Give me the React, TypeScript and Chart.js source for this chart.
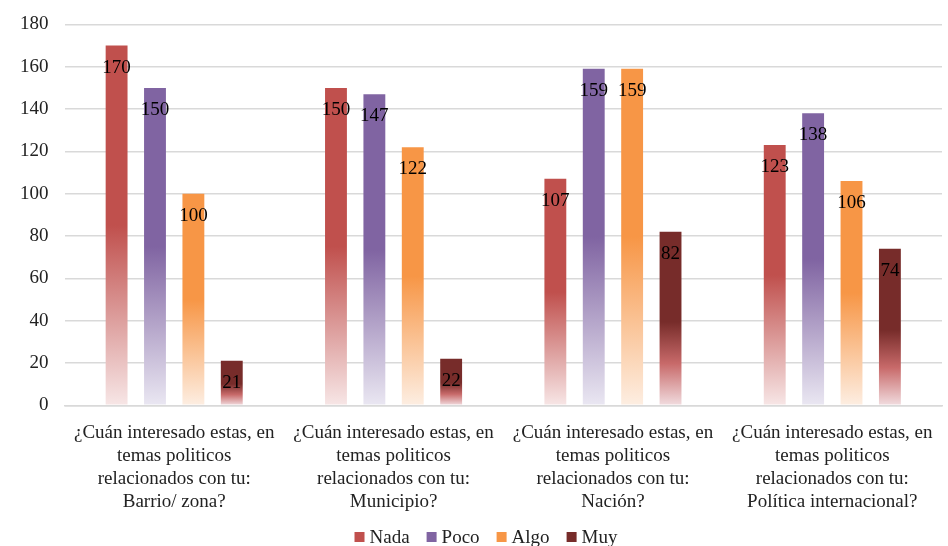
import React, { useEffect, useRef } from "react";
import { Chart, registerables } from "chart.js";

Chart.register(...registerables);

const categories: string[][] = [
  ["¿Cuán interesado estas, en", "temas politicos", "relacionados con tu:", "Barrio/ zona?"],
  ["¿Cuán interesado estas, en", "temas politicos", "relacionados con tu:", "Municipio?"],
  ["¿Cuán interesado estas, en", "temas politicos", "relacionados con tu:", "Nación?"],
  ["¿Cuán interesado estas, en", "temas politicos", "relacionados con tu:", "Política internacional?"],
];
const seriesNames = ["Nada", "Poco", "Algo", "Muy"];
const nada = [170, 150, 107, 123];
const poco = [150, 147, 159, 138];
const algo = [100, 122, 159, 106];
const muy = [21, 22, 82, 74];
const yTicks = [0, 20, 40, 60, 80, 100, 120, 140, 160, 180];

const solid = ["#C0504D", "#8064A2", "#F79646", "#772C2A"];
const gradStops: [number, string][][] = [
  [[0, "#C0504D"], [0.5, "#C0504D"], [1, "#F7E6E6"]],
  [[0, "#8064A2"], [0.5, "#8064A2"], [1, "#EAE7F2"]],
  [[0, "#F79646"], [0.5, "#F79646"], [1, "#FDEEE2"]],
  [[0, "#772C2A"], [0.52, "#772C2A"], [0.76, "#C86A6A"], [1, "#F1DCDF"]],
];
const FONT = "'Liberation Serif', 'Times New Roman', serif";

function gradientFor(i: number) {
  return (ctx: any) => {
    const chart = ctx.chart;
    const yScale = chart.scales && chart.scales.y;
    if (ctx.type !== "data" || !yScale || ctx.parsed == null) return solid[i];
    const top = yScale.getPixelForValue(ctx.parsed.y);
    const base = yScale.getPixelForValue(0);
    if (!isFinite(top) || !isFinite(base) || base - top < 1) return solid[i];
    const g = chart.ctx.createLinearGradient(0, top, 0, base);
    gradStops[i].forEach(([o, c]) => g.addColorStop(o, c));
    return g;
  };
}

const labelPlugin = {
  id: "barLabels",
  afterDatasetsDraw(chart: any) {
    const c = chart.ctx;
    c.save();
    c.font = `19px ${FONT}`;
    c.fillStyle = "#000";
    c.textAlign = "center";
    c.textBaseline = "middle";
    chart.data.datasets.forEach((ds: any, i: number) => {
      const meta = chart.getDatasetMeta(i);
      meta.data.forEach((bar: any, j: number) => {
        c.fillText(String(ds.data[j]), bar.x, bar.y + 22);
      });
    });
    c.restore();
  },
};

const legendPlugin = {
  id: "customLegend",
  afterDraw(chart: any) {
    const c = chart.ctx;
    c.save();
    c.font = `19px ${FONT}`;
    c.textBaseline = "middle";
    c.textAlign = "left";
    const box = 10;
    const gapBoxText = 5;
    const gapItem = 17;
    const widths = seriesNames.map((n) => c.measureText(n).width);
    const total =
      widths.reduce((a, w) => a + box + gapBoxText + w, 0) + gapItem * (seriesNames.length - 1);
    let x = 486 - total / 2;
    const y = chart.height - 9;
    seriesNames.forEach((n, i) => {
      c.fillStyle = solid[i];
      c.fillRect(x, y - box / 2, box, box);
      x += box + gapBoxText;
      c.fillStyle = "#222";
      c.fillText(n, x, y + 1);
      x += widths[i] + gapItem;
    });
    c.restore();
  },
};

export default function App() {
  const ref = useRef<HTMLCanvasElement>(null);
  useEffect(() => {
    if (!ref.current) return;
    const series = [nada, poco, algo, muy];
    const chart = new Chart(ref.current, {
      type: "bar",
      data: {
        labels: categories,
        datasets: series.map((d, i) => ({
          label: seriesNames[i],
          data: d,
          backgroundColor: gradientFor(i),
          borderWidth: 0,
          categoryPercentage: 0.7,
          barPercentage: 0.57,
        })),
      },
      options: {
        animation: false,
        responsive: true,
        maintainAspectRatio: false,
        layout: { padding: { left: 4, right: 6, top: 5, bottom: 24 } },
        plugins: {
          tooltip: { enabled: false },
          legend: { display: false },
        },
        scales: {
          x: {
            grid: { display: false },
            border: { color: "#d9d9d9", width: 1.5 },
            ticks: {
              font: { family: FONT, size: 19, lineHeight: 1.22 },
              color: "#222",
              maxRotation: 0,
              autoSkip: false,
              padding: 8,
            },
          },
          y: {
            min: 0,
            max: 180,
            afterBuildTicks: (axis: any) => {
              axis.ticks = yTicks.map((v) => ({ value: v }));
            },
            grid: { color: "#d9d9d9", lineWidth: 1.5, drawTicks: false },
            border: { display: false },
            ticks: {
              font: { family: FONT, size: 19 },
              color: "#222",
              padding: 16,
            },
          },
        },
      },
      plugins: [labelPlugin, legendPlugin],
    });
    return () => chart.destroy();
  }, []);
  return (
    <div style={{ position: "fixed", left: 0, top: -3, width: 948, height: 549, background: "#fff" }}>
      <canvas ref={ref} />
    </div>
  );
}
